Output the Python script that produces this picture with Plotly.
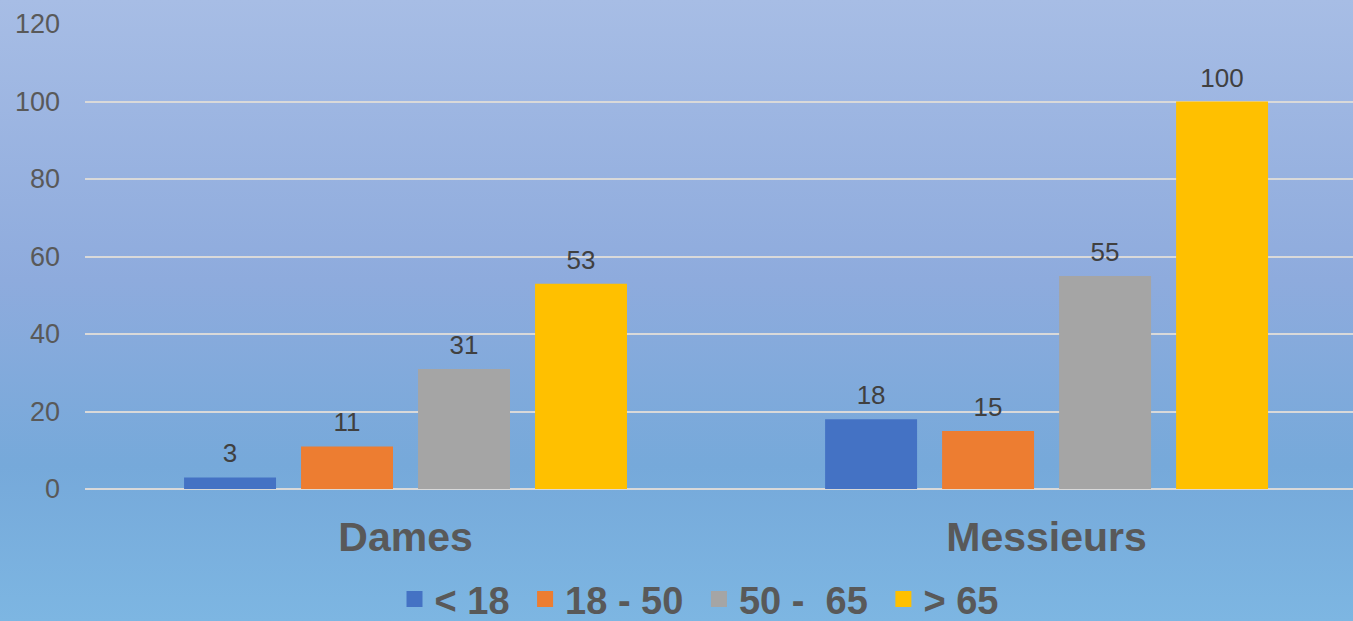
import base64
import plotly.graph_objects as go

categories = ["Dames", "Messieurs"]
series_names = ["< 18", "18 - 50", "50 -  65", "> 65"]
values_lt18 = [3, 18]
values_18_50 = [11, 15]
values_50_65 = [31, 55]
values_gt65 = [53, 100]
colors = ["#4472c4", "#ed7d31", "#a5a5a5", "#ffc000"]
y_ticks = [0, 20, 40, 60, 80, 100, 120]

FONT = "Liberation Sans, Arial, sans-serif"

svg = ('<svg xmlns="http://www.w3.org/2000/svg" width="1353" height="621" preserveAspectRatio="none">'
       '<defs><linearGradient id="g" x1="0" y1="0" x2="0" y2="1">'
       '<stop offset="0" stop-color="#a7bde5"/>'
       '<stop offset="0.45" stop-color="#8eabdd"/>'
       '<stop offset="0.75" stop-color="#76a9da"/>'
       '<stop offset="1" stop-color="#7db6e2"/>'
       '</linearGradient></defs><rect width="1353" height="621" fill="url(#g)"/></svg>')
src = "data:image/svg+xml;base64," + base64.b64encode(svg.encode()).decode()

fig = go.Figure()
all_vals = [values_lt18, values_18_50, values_50_65, values_gt65]
for i, (name, vals, col) in enumerate(zip(series_names, all_vals, colors)):
    fig.add_trace(go.Bar(
        x=categories, y=vals, name=name, marker=dict(color=col, line=dict(width=0)),
        offsetgroup=f"g{i}", alignmentgroup="a", showlegend=False, hoverinfo="skip",
    ))
for i, (name, vals, col) in enumerate(zip(series_names, all_vals, colors)):
    fig.add_trace(go.Scatter(
        x=categories, y=vals, mode="markers+text", text=[str(v) for v in vals],
        textposition="top center", offsetgroup=f"g{i}", alignmentgroup="a",
        marker=dict(size=12, color="rgba(0,0,0,0)"), cliponaxis=False,
        textfont=dict(family=FONT, size=26, color="#404040"), showlegend=False, hoverinfo="skip",
    ))
for name, col in zip(series_names, colors):
    fig.add_trace(go.Scatter(
        x=[None], y=[None], mode="markers", name=name + "\u00a0",
        marker=dict(symbol="square", size=16, color=col),
    ))

fig.update_layout(
    width=1353, height=621,
    margin=dict(l=85, r=0, t=24, b=132, autoexpand=False),
    paper_bgcolor="#8fb0df", plot_bgcolor="rgba(0,0,0,0)",
    barmode="group", bargap=0.27, bargroupgap=0.214, scattermode="group",
    font=dict(family=FONT, color="#595959"),
    images=[dict(source=src, xref="paper", yref="paper", x=-85/1268, y=1 + 24/465,
                 sizex=1353/1268, sizey=621/465, xanchor="left", yanchor="top",
                 sizing="stretch", layer="below")],
    xaxis=dict(showgrid=False, showline=False, ticks="", automargin=False,
               range=[-0.5, 1.478],
               tickfont=dict(size=41, color="#595959", family=FONT, weight="bold"),
               ticklabelstandoff=20),
    yaxis=dict(range=[0, 120], tickvals=y_ticks, showgrid=True, gridcolor="#d9d9d9", gridwidth=1.5,
               zeroline=True, zerolinecolor="#d9d9d9", zerolinewidth=1.5, showline=False, ticks="",
               automargin=False, tickfont=dict(size=27, color="#595959"), ticklabelstandoff=24),
    legend=dict(orientation="h", x=0.5207, xanchor="center", xref="container",
                y=0.035, yanchor="middle", yref="container",
                font=dict(size=38, color="#595959", weight="bold"),
                bgcolor="rgba(0,0,0,0)", itemwidth=30, traceorder="normal", itemsizing="trace"),
    showlegend=True,
)

fig.write_html("out.html", config={"displayModeBar": False},
               post_script="document.body.style.margin='0px';")
